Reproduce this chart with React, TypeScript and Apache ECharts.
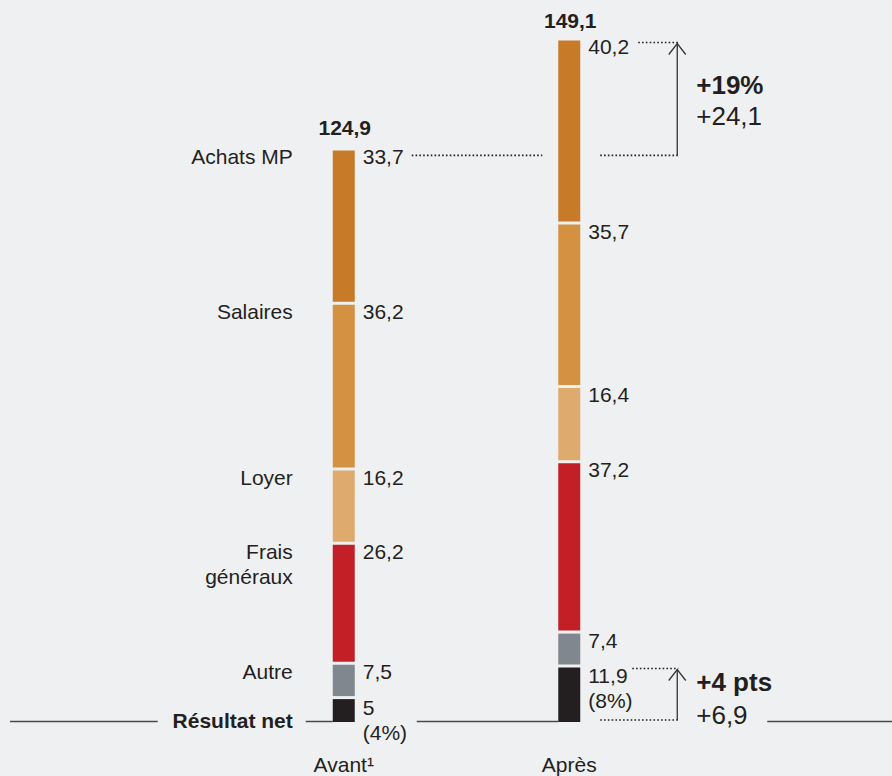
import React, { useEffect, useRef } from "react";
import * as echarts from "echarts";

const categories = ["Avant¹", "Après"];
const segmentNames = ["Résultat net", "Autre", "Frais\ngénéraux", "Loyer", "Salaires", "Achats MP"];
const avantValues = [5, 7.5, 26.2, 16.2, 36.2, 33.7];
const apresValues = [11.9, 7.4, 37.2, 16.4, 35.7, 40.2];
const totalLabels = [124.9, 149.1];
const netShares = [4, 8];
const growthLabels = ["+19%", "+24,1"];
const marginLabels = ["+4 pts", "+6,9"];
const segmentColors = ["#231f20", "#80878e", "#c21f27", "#dfaa6d", "#d49142", "#c77b28"];

const BG = "#eff0f2";
const TEXT = "#231f20";
const FONT = "'Liberation Sans', Arial, Helvetica, sans-serif";

const fmt = (v: number) => (Number.isInteger(v) ? String(v) : v.toFixed(1).replace(".", ","));

export default function App() {
  const ref = useRef<HTMLDivElement>(null);
  useEffect(() => {
    document.body.style.margin = "0";
    document.body.style.background = BG;
    const chart = echarts.init(ref.current!, null, { renderer: "svg" });
    const valueSets = [avantValues, apresValues];
    const series = segmentNames.map((name, j) => {
      const data = valueSets.map((vals, i) => {
        const start = vals.slice(0, j).reduce((a, b) => a + b, 0);
        return [i, start, start + vals[j], vals[j]];
      });
      return {
        type: "custom",
        name,
        data,
        encode: { x: 0, y: [1, 2] },
        renderItem: (params: any, api: any) => {
          const cat = api.value(0);
          const base = api.coord([cat, api.value(1)]);
          const top = api.coord([cat, api.value(2)]);
          const cx = base[0];
          const w = 22;
          const yTop = top[1];
          const yBot = base[1] - (j === 0 ? 0 : 3);
          const val = api.value(3);
          const children: any[] = [
            {
              type: "rect",
              shape: { x: cx - w / 2, y: yTop, width: w, height: yBot - yTop },
              style: { fill: segmentColors[j] },
            },
          ];
          const valText = j === 0 ? `${fmt(val)}\n(${netShares[cat]}%)` : fmt(val);
          const labelY = j === 0 ? yTop - 4 : yTop - 6;
          children.push({
            type: "text",
            style: {
              text: valText,
              x: cx + 19,
              y: labelY,
              align: "left",
              verticalAlign: "top",
              lineHeight: 25,
              fontSize: 21,
              fontFamily: FONT,
              fill: TEXT,
            },
          });
          if (cat === 0) {
            children.push({
              type: "text",
              style: {
                text: name,
                x: cx - 51,
                y: j === 0 ? base[1] - 1.5 : labelY,
                align: "right",
                verticalAlign: j === 0 ? "middle" : "top",
                lineHeight: 25,
                fontSize: 21,
                fontWeight: j === 0 ? "bold" : "normal",
                fontFamily: FONT,
                fill: TEXT,
              },
            });
          }
          if (j === segmentNames.length - 1) {
            children.push({
              type: "text",
              style: {
                text: fmt(totalLabels[cat]),
                x: cx + 1,
                y: yTop - (cat === 0 ? 22.5 : 20),
                align: "center",
                verticalAlign: "middle",
                fontSize: 21,
                fontWeight: "bold",
                fontFamily: FONT,
                fill: TEXT,
              },
            });
          }
          return { type: "group", children };
        },
      };
    });

    chart.setOption({
      animation: false,
      backgroundColor: BG,
      grid: { left: 231, right: 210, top: 35, bottom: 54 },
      xAxis: {
        type: "category",
        data: categories,
        axisLine: { show: false },
        axisTick: { show: false },
        axisLabel: { fontSize: 21, lineHeight: 21, color: TEXT, fontFamily: FONT, margin: 32 },
      },
      yAxis: { type: "value", min: 0, max: 150, show: false, splitLine: { show: false } },
      series,
    });

    const sum = (a: number[]) => a.reduce((x, y) => x + y, 0);
    const px = (c: number, v: number) => chart.convertToPixel({ gridIndex: 0 }, [c, v]) as number[];
    const xAv = px(0, 0)[0];
    const xAp = px(1, 0)[0];
    const yBase = px(0, 0)[1];
    const yAvTop = px(0, sum(avantValues))[1];
    const yApTop = px(1, sum(apresValues))[1];
    const yApNet = px(1, apresValues[0])[1];

    const dot = { stroke: TEXT, lineWidth: 1.6, lineDash: [1.6, 2.2] };
    const solid = { stroke: "#4a4a4a", lineWidth: 1.5 };
    const arrowStyle = { stroke: "#333", lineWidth: 1.3, fill: "none" };
    const line = (x1: number, y1: number, x2: number, y2: number, style: any) => ({
      type: "line",
      shape: { x1, y1, x2, y2 },
      style,
      silent: true,
    });
    const yLevelAv = yAvTop + 5;
    const yLevelAp = yApTop + 2;
    const yLevelBase = yBase - 2;
    const xArrow = xAp + 108;
    const txt = (text: string, x: number, y: number, bold: boolean) => ({
      type: "text",
      style: {
        text,
        x,
        y,
        align: "left",
        verticalAlign: "middle",
        fontSize: 26,
        fontWeight: bold ? "bold" : "normal",
        fontFamily: FONT,
        fill: TEXT,
      },
      silent: true,
    });
    const midTop = (yLevelAv + yLevelAp) / 2;
    const midBot = (yLevelBase + yApNet) / 2;

    chart.setOption({
      graphic: [
        line(10, yBase - 0.5, xAv - 186, yBase - 0.5, solid),
        line(xAv - 38, yBase - 0.5, xAv - 11, yBase - 0.5, solid),
        line(xAv + 73, yBase - 0.5, xAp - 11, yBase - 0.5, solid),
        line(xAp + 198, yBase - 0.5, 892, yBase - 0.5, solid),
        line(xAv + 68, yLevelAv, xAp - 27, yLevelAv, dot),
        line(xAp + 31, yLevelAv, xArrow + 1, yLevelAv, dot),
        line(xAp + 69, yLevelAp, xArrow + 1, yLevelAp, dot),
        line(xArrow, yLevelAv, xArrow, yLevelAp + 1, arrowStyle),
        {
          type: "polyline",
          shape: { points: [[xArrow - 8.5, yLevelAp + 12], [xArrow, yLevelAp + 1], [xArrow + 8.5, yLevelAp + 12]] },
          style: arrowStyle,
          silent: true,
        },
        txt(growthLabels[0], xAp + 127, midTop - 14, true),
        txt(growthLabels[1], xAp + 127, midTop + 17, false),
        line(xAp + 63, yApNet + 1, xArrow + 1, yApNet + 1, dot),
        line(xAp + 31, yLevelBase, xArrow + 1, yLevelBase, dot),
        line(xArrow, yLevelBase, xArrow, yApNet + 2, arrowStyle),
        {
          type: "polyline",
          shape: { points: [[xArrow - 8.5, yApNet + 13], [xArrow, yApNet + 2], [xArrow + 8.5, yApNet + 13]] },
          style: arrowStyle,
          silent: true,
        },
        txt(marginLabels[0], xAp + 127, midBot - 12, true),
        txt(marginLabels[1], xAp + 127, midBot + 21, false),
      ],
    });

    return () => chart.dispose();
  }, []);
  return <div ref={ref} style={{ position: "fixed", left: 0, top: 0, width: 892, height: 776 }} />;
}
